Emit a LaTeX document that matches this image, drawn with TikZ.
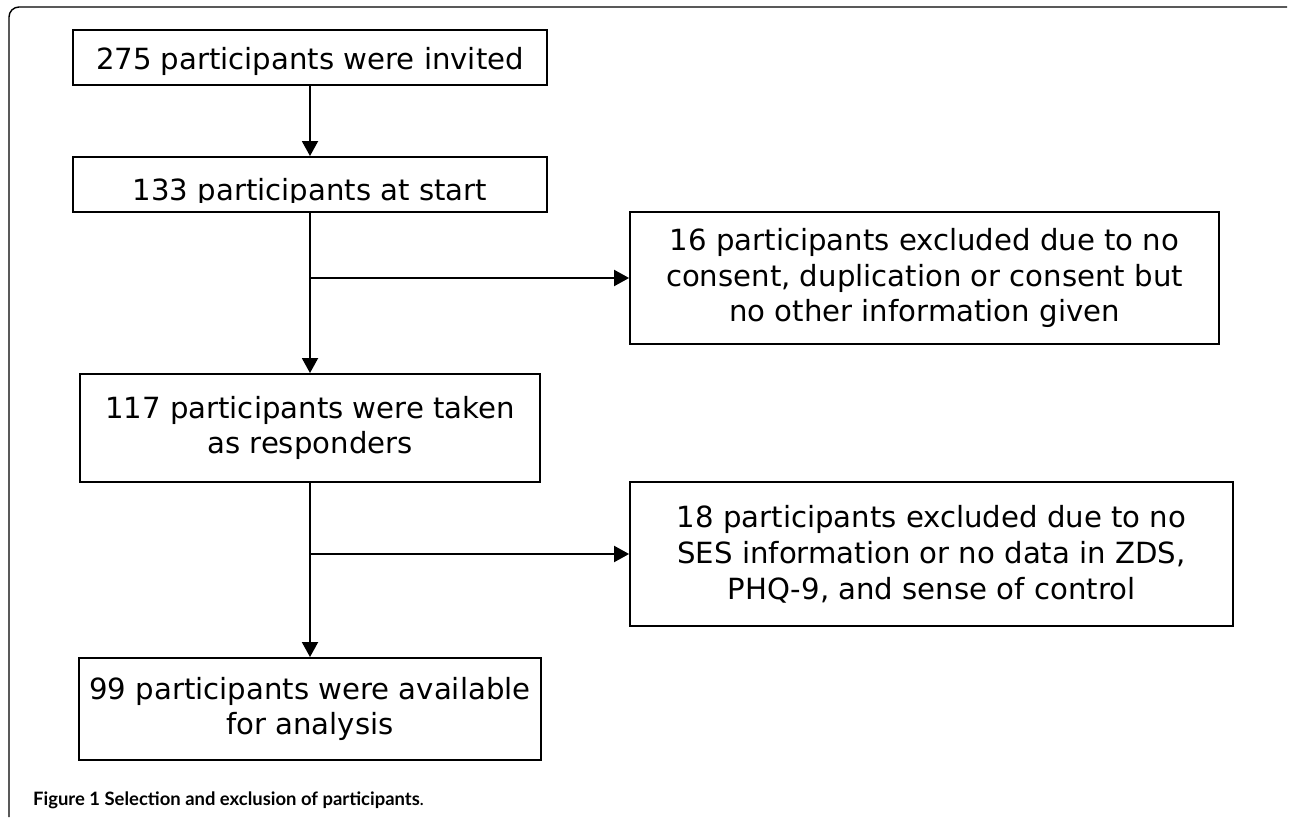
\documentclass[tikz,border=0pt]{standalone}
\usepackage{fontspec}
\setmainfont{DejaVu Sans}
\newfontfamily\capfont{Lato}
\usetikzlibrary{arrows.meta}

\begin{document}
\begin{tikzpicture}[x=0.02cm, y=-0.02cm,
        box/.style={draw, line width=1.1pt, align=center, inner sep=0pt,
            font=\fontsize{16.6}{20.4}\selectfont},
        oneline/.style={text height=14pt, text depth=0pt},
        flow/.style={line width=1.1pt, -{Triangle[length=0.3cm, width=0.32cm]}}]
            \useasboundingbox (0,0) rectangle (1290,820);

            % Frame
            \draw[line width=0.8pt, rounded corners=0.2cm] (9,817) -- (9,7) -- (1287,7);

            % Main column
            \node[box, oneline, minimum width=9.5cm, minimum height=1.1cm] (invited) at (310,57.5) {275 participants were invited};
            \node[box, minimum width=9.5cm, minimum height=1.1cm] (start) at (310,184.5) {};
            \begin{scope}
                \clip ([yshift=0.2cm]start.south west) rectangle (start.north east);
                \node[anchor=base, font=\fontsize{16.6}{20.4}\selectfont] (starttext) at (310,200.5) {133 participants at start};
            \end{scope}
            \node[box, minimum width=9.2cm, minimum height=2.16cm] (responders) at (310,428) {117 participants were taken\\as responders};
            \node[box, minimum width=9.24cm, minimum height=2.04cm] (analysis) at (310,709) {99 participants were available\\for analysis};

            % Exclusions
            \node[box, minimum width=11.78cm, minimum height=2.64cm] (excl1) at (924.5,278) {16 participants excluded due to no\\consent, duplication or consent but\\no other information given};
            \node[box, minimum width=12.06cm, minimum height=2.88cm] (excl2) at (931.5,554) {18 participants excluded due to no\\SES information or no data in ZDS,\\PHQ-9, and sense of control};

            % Arrows
            \draw[flow] (invited) -- (start);
            \draw[flow] (start) -- (responders);
            \draw[flow] (start.south |- excl1.west) -- (excl1.west);
            \draw[flow] (responders) -- (analysis);
            \draw[flow] (responders.south |- excl2.west) -- (excl2.west);

            % Caption
            \node[anchor=base west, font=\capfont\fontsize{10.5}{12.5}\selectfont] (caption) at (27,805) {\textbf{Figure 1 Selection and exclusion of participants}.};
        \end{tikzpicture}
\end{document}
